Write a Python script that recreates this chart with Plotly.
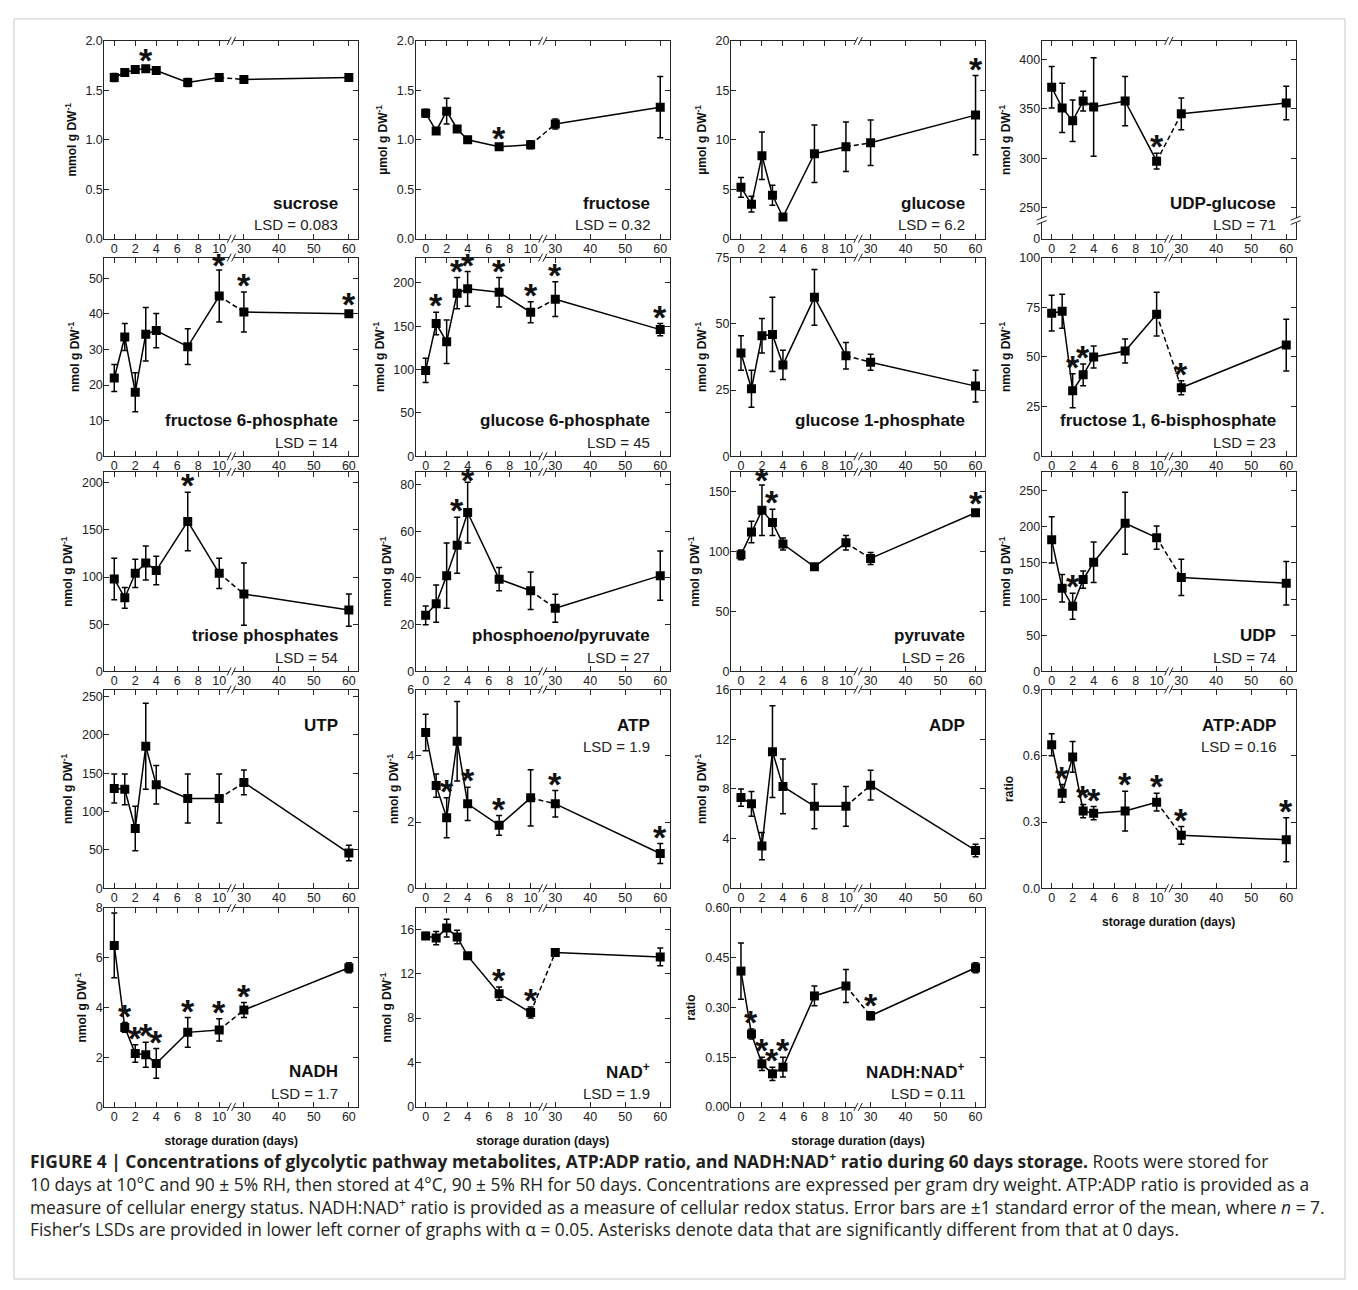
import plotly.graph_objects as go

W, H = 1358, 1290
FONT = "Liberation Sans, Arial, sans-serif"
CAP_FONT = "Open Sans, Liberation Sans, Arial, sans-serif"

days = [0, 1, 2, 3, 4, 7, 10, 30, 60]
x_tick_days = [0, 2, 4, 6, 8, 10, 30, 40, 50, 60]

sucrose_mean = [1.63, 1.68, 1.71, 1.72, 1.70, 1.58, 1.63, 1.61, 1.63]
sucrose_se = [0.04, 0.02, 0.02, 0.02, 0.02, 0.04, 0.02, 0.02, 0.03]
sucrose_sig = [3]

fructose_mean = [1.27, 1.09, 1.29, 1.11, 1.00, 0.93, 0.95, 1.16, 1.33]
fructose_se = [0.04, 0.02, 0.13, 0.02, 0.02, 0.02, 0.04, 0.05, 0.31]
fructose_sig = [7]

glucose_mean = [5.2, 3.5, 8.4, 4.4, 2.2, 8.6, 9.3, 9.7, 12.5]
glucose_se = [1.0, 0.8, 2.4, 1.0, 0.2, 2.9, 2.5, 2.3, 4.0]
glucose_sig = [60]

udpglc_mean = [372, 351, 338, 358, 352, 358, 297, 345, 356]
udpglc_se = [21, 25, 21, 10, 50, 25, 8, 16, 17]
udpglc_sig = [10]

f6p_mean = [22, 33.5, 18, 34.3, 35.3, 30.8, 45, 40.5, 40]
f6p_se = [3.8, 3.8, 5.5, 7.5, 4.8, 5, 7.3, 5.6, 0.8]
f6p_sig = [10, 30, 60]

g6p_mean = [99, 153, 132, 188, 193, 189, 166, 181, 146]
g6p_se = [14, 13, 25, 18, 20, 17, 12, 20, 7]
g6p_sig = [1, 3, 4, 7, 10, 30, 60]

g1p_mean = [39, 25.5, 45.5, 46, 34.5, 60, 38, 35.5, 26.5]
g1p_se = [6.5, 7, 6.5, 14, 5.5, 10.5, 5, 3, 6]
g1p_sig = []

f16bp_mean = [72, 73, 33, 41, 50, 53, 71.5, 34.5, 56]
f16bp_se = [9, 8.5, 8.5, 5.5, 5.5, 6, 11, 3.5, 13]
f16bp_sig = [2, 3, 30]

triose_mean = [98, 78, 104, 115, 107, 159, 104, 82, 65]
triose_se = [22, 11, 15, 18, 15, 31, 16, 33, 17]
triose_sig = [7]

pep_mean = [24, 29, 41, 54, 68, 39.5, 34.5, 27, 41]
pep_se = [4, 8, 14, 12, 13, 5, 8, 6, 10.5]
pep_sig = [3, 4]

pyruvate_mean = [97, 116, 134, 124, 106, 87, 107, 94, 132]
pyruvate_se = [4, 9, 21, 11, 5, 2, 6, 5, 2]
pyruvate_sig = [2, 3, 60]

udp_mean = [182, 115, 90, 127, 151, 205, 185, 130, 122]
udp_se = [32, 19, 18, 12, 28, 43, 16, 25, 30]
udp_sig = [2]

utp_mean = [130, 129, 78, 185, 135, 117, 117, 138, 46]
utp_se = [19, 20, 29, 56, 25, 32, 32, 16, 10]
utp_sig = []

atp_mean = [4.7, 3.1, 2.13, 4.44, 2.55, 1.9, 2.73, 2.55, 1.05]
atp_se = [0.55, 0.35, 0.6, 1.2, 0.5, 0.3, 0.85, 0.4, 0.3]
atp_sig = [2, 4, 7, 30, 60]

adp_mean = [7.3, 6.8, 3.4, 11.0, 8.2, 6.6, 6.6, 8.3, 3.05]
adp_se = [0.7, 1.0, 1.1, 3.7, 2.2, 1.8, 1.6, 1.2, 0.5]
adp_sig = []

atpadp_mean = [0.65, 0.43, 0.595, 0.35, 0.34, 0.35, 0.39, 0.24, 0.22]
atpadp_se = [0.05, 0.04, 0.07, 0.03, 0.03, 0.09, 0.04, 0.04, 0.1]
atpadp_sig = [1, 3, 4, 7, 10, 30, 60]

nadh_mean = [6.5, 3.2, 2.15, 2.1, 1.75, 3.0, 3.1, 3.9, 5.6]
nadh_se = [1.3, 0.2, 0.35, 0.5, 0.6, 0.6, 0.45, 0.3, 0.2]
nadh_sig = [1, 2, 3, 4, 7, 10, 30]

nad_mean = [15.4, 15.2, 16.1, 15.3, 13.6, 10.2, 8.5, 13.9, 13.5]
nad_se = [0.3, 0.6, 0.8, 0.6, 0.2, 0.6, 0.5, 0.3, 0.8]
nad_sig = [7, 10]

nadhnad_mean = [0.41, 0.22, 0.13, 0.10, 0.12, 0.335, 0.365, 0.275, 0.42]
nadhnad_se = [0.085, 0.015, 0.02, 0.02, 0.03, 0.03, 0.05, 0.012, 0.015]
nadhnad_sig = [1, 2, 3, 4, 30]

U_MM = "mmol g DW<sup>-1</sup>"
U_UM = "µmol g DW<sup>-1</sup>"
U_NM = "nmol g DW<sup>-1</sup>"
U_R = "ratio"


def lin(a, b, s):
    out = []
    v = a
    while v <= b + 1e-9:
        out.append(round(v, 6))
        v += s
    return out


# name, mean, se, sig, label, LSD, unit, yrange, yticks, yticktext, label position, x title
panels = [
    ("sucrose", sucrose_mean, sucrose_se, sucrose_sig, "sucrose", "0.083", U_MM, [0, 2.0], lin(0, 2, 0.5), ["0.0", "0.5", "1.0", "1.5", "2.0"], "bottom", False),
    ("fructose", fructose_mean, fructose_se, fructose_sig, "fructose", "0.32", U_UM, [0, 2.0], lin(0, 2, 0.5), ["0.0", "0.5", "1.0", "1.5", "2.0"], "bottom", False),
    ("glucose", glucose_mean, glucose_se, glucose_sig, "glucose", "6.2", U_UM, [0, 20], lin(0, 20, 5), None, "bottom", False),
    ("udpglc", udpglc_mean, udpglc_se, udpglc_sig, "UDP-glucose", "71", U_NM, [218.3, 419], [218.3, 250, 300, 350, 400], ["0", "250", "300", "350", "400"], "bottom", False),
    ("f6p", f6p_mean, f6p_se, f6p_sig, "fructose 6-phosphate", "14", U_NM, [0, 55.8], lin(0, 50, 10), None, "bottom", False),
    ("g6p", g6p_mean, g6p_se, g6p_sig, "glucose 6-phosphate", "45", U_NM, [0, 229], lin(0, 200, 50), None, "bottom", False),
    ("g1p", g1p_mean, g1p_se, g1p_sig, "glucose 1-phosphate", None, U_NM, [0, 75], lin(0, 75, 25), None, "bottom", False),
    ("f16bp", f16bp_mean, f16bp_se, f16bp_sig, "fructose 1, 6-bisphosphate", "23", U_NM, [0, 100], lin(0, 100, 25), None, "bottom", False),
    ("triose", triose_mean, triose_se, triose_sig, "triose phosphates", "54", U_NM, [0, 211.5], lin(0, 200, 50), None, "bottom", False),
    ("pep", pep_mean, pep_se, pep_sig, "phospho<i>enol</i>pyruvate", "27", U_NM, [0, 85.4], lin(0, 80, 20), None, "bottom", False),
    ("pyruvate", pyruvate_mean, pyruvate_se, pyruvate_sig, "pyruvate", "26", U_NM, [0, 166], lin(0, 150, 50), None, "bottom", False),
    ("udp", udp_mean, udp_se, udp_sig, "UDP", "74", U_NM, [0, 276], lin(0, 250, 50), None, "bottom", False),
    ("utp", utp_mean, utp_se, utp_sig, "UTP", None, U_NM, [0, 259], lin(0, 250, 50), None, "top", False),
    ("atp", atp_mean, atp_se, atp_sig, "ATP", "1.9", U_NM, [0, 6], lin(0, 6, 2), None, "top", False),
    ("adp", adp_mean, adp_se, adp_sig, "ADP", None, U_NM, [0, 16], lin(0, 16, 4), None, "top", False),
    ("atpadp", atpadp_mean, atpadp_se, atpadp_sig, "ATP:ADP", "0.16", U_R, [0, 0.9], lin(0, 0.9, 0.3), ["0.0", "0.3", "0.6", "0.9"], "top", True),
    ("nadh", nadh_mean, nadh_se, nadh_sig, "NADH", "1.7", U_NM, [0, 8], lin(0, 8, 2), None, "bottom", True),
    ("nad", nad_mean, nad_se, nad_sig, "NAD<sup>+</sup>", "1.9", U_NM, [0, 17.9], lin(0, 16, 4), None, "bottom", True),
    ("nadhnad", nadhnad_mean, nadhnad_se, nadhnad_sig, "NADH:NAD<sup>+</sup>", "0.11", U_R, [0, 0.6], lin(0, 0.6, 0.15), ["0.00", "0.15", "0.30", "0.45", "0.60"], "bottom", True),
]

COL_LEFT = [104.3, 415.7, 731.0, 1041.7]
PW = 254.0
ROWS = [(34.3, 234.3), (253.3, 454.3), (470.0, 671.7), (690.0, 891.0), (911.0, 1112.0)]
XR = [-0.95, 23.25]
XBREAK = 11.16
AXC = "#262626"


def xpos(d):
    return d if d <= 10 else 12.35 + (d - 30) / 3.0


fig = go.Figure()
shapes = []
annos = []
layout = {}

for i, (key, mean, se, sig, label, lsd, unit, yr, yt, ytt, lpos, xtitle) in enumerate(panels):
    n = i + 1
    sfx = "" if n == 1 else str(n)
    r, c = divmod(i, 4)
    left = COL_LEFT[c]
    top, bot = ROWS[r]
    ph = bot - top
    xd = [left / W, (left + PW) / W]
    yd = [1 - bot / H, 1 - top / H]
    xs = [xpos(d) for d in days]
    xa, ya = "x" + sfx, "y" + sfx

    line = dict(color="black", width=1.5)
    fig.add_trace(go.Scatter(x=xs[:7], y=mean[:7], mode="lines", line=line, xaxis=xa, yaxis=ya, showlegend=False, hoverinfo="skip"))
    fig.add_trace(go.Scatter(x=xs[6:8], y=mean[6:8], mode="lines", line=dict(color="black", width=1.5, dash="5px,3px"), xaxis=xa, yaxis=ya, showlegend=False, hoverinfo="skip"))
    fig.add_trace(go.Scatter(x=xs[7:], y=mean[7:], mode="lines", line=line, xaxis=xa, yaxis=ya, showlegend=False, hoverinfo="skip"))
    fig.add_trace(go.Scatter(
        x=xs, y=mean, mode="markers", xaxis=xa, yaxis=ya, showlegend=False,
        marker=dict(symbol="square", size=9, color="black", line=dict(width=0)),
        error_y=dict(type="data", array=se, visible=True, color="black", thickness=1.5, width=3),
    ))

    axis_common = dict(
        showline=True, linecolor=AXC, linewidth=1, mirror="ticks", ticks="inside",
        ticklen=5, tickwidth=1, tickcolor=AXC, showgrid=False, zeroline=False,
        tickfont=dict(family=FONT, size=12.5, color="#222"), fixedrange=True,
    )
    xax = dict(axis_common, domain=xd, range=XR, anchor=ya, tickmode="array", ticklabelstandoff=-2,
               tickvals=[xpos(d) for d in x_tick_days], ticktext=[str(d) for d in x_tick_days])
    if xtitle:
        xax["title"] = dict(text="<b>storage duration (days)</b>", font=dict(family=FONT, size=12, color="#111"), standoff=13)
    yax = dict(axis_common, domain=yd, range=yr, anchor=xa, tickmode="array", tickvals=yt, ticklabelstandoff=-2,
               ticktext=ytt if ytt else [("%g" % v) for v in yt],
               title=dict(text="<b>" + unit + "</b>", font=dict(family=FONT, size=12, color="#111"), standoff=6))
    layout["xaxis" + sfx] = xax
    layout["yaxis" + sfx] = yax

    # labels
    xr_dom = 1 - 18 / PW
    if lpos == "bottom":
        ny = 36 / ph
        ly = 14 / ph
    else:
        ny = 1 - 36 / ph
        ly = 1 - 58 / ph
    annos.append(dict(text="<b>" + label + "</b>", xref=xa + " domain", yref=ya + " domain", x=xr_dom, y=ny,
                      xanchor="right", yanchor="middle", showarrow=False, font=dict(family=FONT, size=17, color="#111")))
    if lsd:
        annos.append(dict(text="LSD = " + lsd, xref=xa + " domain", yref=ya + " domain", x=xr_dom, y=ly,
                          xanchor="right", yanchor="middle", showarrow=False, font=dict(family=FONT, size=15, color="#222")))

    # asterisks (placed just above the error bar)
    ppu = ph / (yr[1] - yr[0])
    for d in sig:
        k = days.index(d)
        yv = min(mean[k] + se[k] + 7 / ppu, yr[1] - 8 / ppu)
        annos.append(dict(text="<b>*</b>", xref=xa, yref=ya, x=xpos(d), y=yv, xanchor="center", yanchor="middle",
                          yshift=0, showarrow=False, font=dict(family=FONT, size=34, color="#111")))

    # x-axis break marks (top and bottom)
    upx = (XR[1] - XR[0]) / PW
    dpy = 1 / ph
    for yb in (0.0, 1.0):
        shapes.append(dict(type="rect", xref=xa, yref=ya + " domain", x0=XBREAK - 2.2 * upx, x1=XBREAK + 2.2 * upx,
                           y0=yb - 2 * dpy, y1=yb + 2 * dpy, fillcolor="white", line=dict(width=0), layer="above"))
        for off in (-2.2, 2.2):
            cx = XBREAK + off * upx
            shapes.append(dict(type="line", xref=xa, yref=ya + " domain", x0=cx - 2 * upx, x1=cx + 2 * upx,
                               y0=yb - 4 * dpy, y1=yb + 4 * dpy, line=dict(color=AXC, width=1), layer="above"))

    if key == "udpglc":
        yb = 237.0
        vpu = (yr[1] - yr[0]) / ph
        for xb in (0.0, 1.0):
            shapes.append(dict(type="rect", xref=xa + " domain", yref=ya, x0=xb - 2 / PW, x1=xb + 2 / PW,
                               y0=yb - 2.2 * vpu, y1=yb + 2.2 * vpu, fillcolor="white", line=dict(width=0), layer="above"))
            for off in (-2.2, 2.2):
                cy = yb + off * vpu
                shapes.append(dict(type="line", xref=xa + " domain", yref=ya, x0=xb - 5 / PW, x1=xb + 5 / PW,
                                   y0=cy - 2 * vpu, y1=cy + 2 * vpu, line=dict(color=AXC, width=1), layer="above"))

# caption
cap_lines = [
    "<b>FIGURE 4 | Concentrations of glycolytic pathway metabolites, ATP:ADP ratio, and NADH:NAD<sup>+</sup> ratio during 60 days storage.</b> Roots were stored for",
    "10 days at 10°C and 90 ± 5% RH, then stored at 4°C, 90 ± 5% RH for 50 days. Concentrations are expressed per gram dry weight. ATP:ADP ratio is provided as a",
    "measure of cellular energy status. NADH:NAD<sup>+</sup> ratio is provided as a measure of cellular redox status. Error bars are ±1 standard error of the mean, where <i>n</i> = 7.",
    "Fisher’s LSDs are provided in lower left corner of graphs with α = 0.05. Asterisks denote data that are significantly different from that at 0 days.",
]
cap_bottom = [1181, 1204, 1227, 1250]
for t, yy in zip(cap_lines, cap_bottom):
    annos.append(dict(text=t, xref="paper", yref="paper", x=28 / W, y=1 - yy / H, xanchor="left", yanchor="bottom",
                      showarrow=False, font=dict(family=CAP_FONT, size=17.4, color="#231f20")))

# figure frame
shapes.append(dict(type="rect", xref="paper", yref="paper", x0=14 / W, x1=1345 / W, y0=1 - 1286 / H, y1=1 - 12 / H,
                   line=dict(color="#c9c9c9", width=1), fillcolor="rgba(0,0,0,0)", layer="below"))

fig.update_layout(
    width=W, height=H, margin=dict(l=0, r=0, t=0, b=0),
    paper_bgcolor="white", plot_bgcolor="white",
    font=dict(family=FONT, color="#222"),
    shapes=shapes, annotations=annos, showlegend=False,
    **layout,
)

fig.write_html("out.html", config={"displayModeBar": False})
